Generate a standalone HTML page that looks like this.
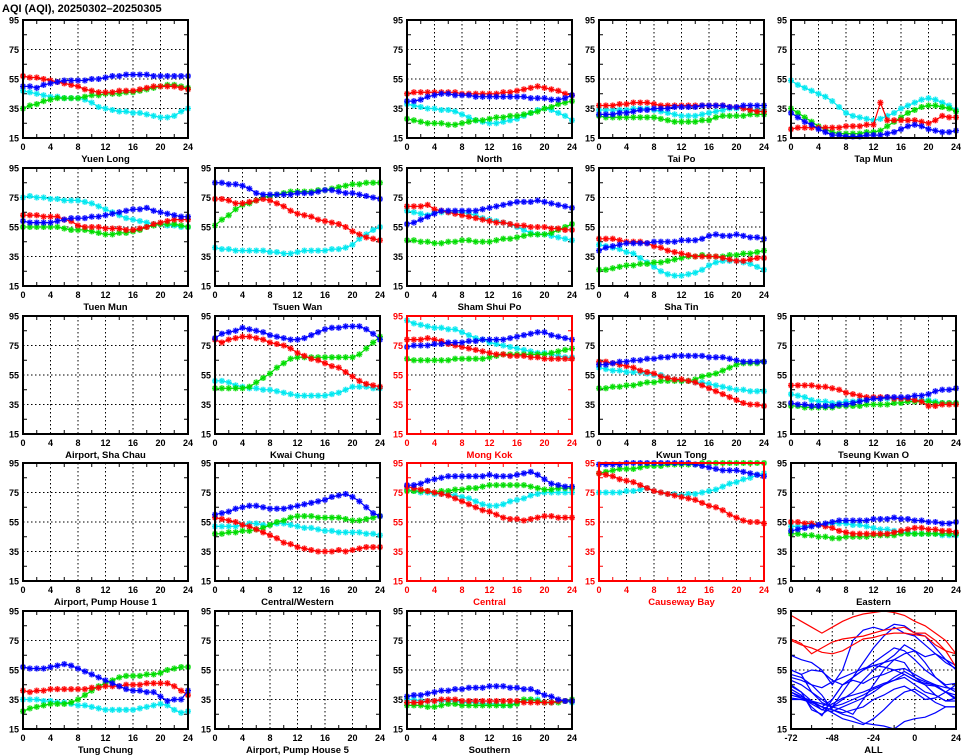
<!DOCTYPE html>
<html><head><meta charset="utf-8"><style>
html,body{margin:0;padding:0;background:#fff;}
svg{display:block;font-family:"Liberation Sans",sans-serif;font-weight:bold;}
</style></head><body>
<svg id="c" width="965" height="755" viewBox="0 0 965 755" xmlns="http://www.w3.org/2000/svg">
<text x="2" y="12" font-size="11" fill="#000">AQI (AQI), 20250302–20250305</text>
</svg>
<script>
const hours = [0,1,2,3,4,5,6,7,8,9,10,11,12,13,14,15,16,17,18,19,20,21,22,23,24];
const yTicks = [15,35,55,75,95];
const xTicks = [0,4,8,12,16,20,24];
const allXTicks = [-72,-48,-24,0,24];
const allHours = [-72,-66,-60,-54,-48,-42,-36,-30,-24,-18,-12,-6,0,6,12,18,24];
const stationNames = ["Yuen Long","North","Tai Po","Tap Mun","Tuen Mun","Tsuen Wan","Sham Shui Po","Sha Tin","Airport, Sha Chau","Kwai Chung","Mong Kok","Kwun Tong","Tseung Kwan O","Airport, Pump House 1","Central/Western","Central","Causeway Bay","Eastern","Tung Chung","Airport, Pump House 5","Southern"];
const stationCols = [0,2,3,4,0,1,2,3,0,1,2,3,4,0,1,2,3,4,0,1,2];
const stationRows = [0,0,0,0,1,1,1,1,2,2,2,2,2,3,3,3,3,3,4,4,4];
const roadside = ["Mong Kok","Central","Causeway Bay"];
const blueSeries = {
"Yuen Long":[50,50,49,51,52,53,54,54,54,54,55,55,56,57,57,58,58,58,58,57,57,57,57,57,57],
"North":[40,40,41,43,44,45,45,44,44,44,43,43,43,43,43,43,43,43,42,42,42,41,41,42,44],
"Tai Po":[31,31,31,32,32,33,34,34,35,35,35,36,36,36,36,37,37,37,37,36,36,37,37,37,37],
"Tap Mun":[32,29,26,24,21,19,17,17,16,16,16,17,17,17,18,19,21,23,24,23,21,20,19,19,20],
"Tuen Mun":[59,58,58,58,58,59,60,61,61,61,62,62,63,64,65,66,67,67,68,66,65,64,63,62,62],
"Tsuen Wan":[85,85,84,84,83,81,78,77,77,77,77,77,78,78,78,79,80,80,79,78,78,77,76,75,74],
"Sham Shui Po":[57,58,60,62,64,66,66,66,66,66,66,67,68,69,70,71,72,72,72,73,72,71,70,69,68],
"Sha Tin":[39,41,42,43,44,44,44,44,45,45,45,45,46,46,46,47,49,50,49,49,50,49,48,48,47],
"Kwai Chung":[80,83,84,85,87,86,85,84,82,81,80,79,79,80,82,84,86,87,87,88,88,88,86,83,79],
"Mong Kok":[74,75,75,75,76,76,77,77,77,78,78,79,79,79,79,80,81,82,83,84,84,82,81,80,79],
"Kwun Tong":[62,62,63,64,64,65,65,66,66,67,67,68,68,68,68,68,67,67,67,66,65,64,64,64,64],
"Tseung Kwan O":[36,35,35,34,34,34,34,35,35,36,37,38,39,39,40,40,40,40,41,41,42,44,45,45,46],
"Central/Western":[60,61,62,64,65,66,66,65,64,64,64,65,66,67,68,69,70,72,73,74,72,69,65,61,59],
"Central":[80,80,81,83,84,85,86,86,86,86,86,86,87,86,86,86,87,88,89,87,84,81,80,79,79],
"Causeway Bay":[94,94,94,94,95,95,95,95,95,95,95,95,95,95,94,93,92,91,90,90,90,89,88,87,86],
"Eastern":[49,50,51,52,53,54,55,56,56,56,56,56,57,57,57,58,57,57,56,56,55,55,54,54,55],
"Tung Chung":[57,56,56,56,57,58,59,58,56,54,52,50,48,46,44,42,41,41,40,40,37,34,35,35,41],
"Southern":[37,38,38,39,40,41,41,42,42,43,43,43,44,44,44,43,43,42,42,40,38,37,35,34,34]
};
const redSeries = {
"Yuen Long":[57,56,56,55,54,53,52,51,50,48,47,46,46,46,47,47,47,48,49,50,50,50,50,49,48],
"North":[45,46,46,46,46,46,46,46,45,45,45,45,45,45,46,46,47,48,49,50,49,48,47,45,44],
"Tai Po":[37,37,37,38,38,39,39,39,38,37,37,37,37,37,37,37,37,37,37,36,36,35,34,33,33],
"Tap Mun":[21,22,22,22,22,22,22,22,23,23,23,24,24,39,27,27,27,27,27,26,25,27,30,29,29],
"Tuen Mun":[63,63,63,62,62,62,60,59,56,55,55,55,54,54,54,53,53,54,55,57,58,59,60,60,60],
"Tsuen Wan":[74,74,73,71,71,72,73,74,73,71,69,66,64,63,62,60,59,58,57,55,52,50,48,47,46],
"Sham Shui Po":[69,69,69,70,67,66,65,64,63,62,61,60,59,58,58,57,56,56,55,55,55,54,54,53,53],
"Sha Tin":[47,47,47,46,45,45,45,44,42,41,39,38,37,36,35,35,35,35,34,33,32,32,33,34,34],
"Kwai Chung":[79,77,79,80,81,81,80,79,77,76,75,73,70,68,66,65,63,61,60,57,54,51,49,48,47],
"Mong Kok":[79,79,79,80,79,78,76,75,74,73,72,71,70,69,69,68,68,68,67,67,66,66,66,66,66],
"Kwun Tong":[64,64,63,62,61,60,58,57,56,54,53,52,52,51,50,48,46,44,42,40,38,36,35,35,34],
"Tseung Kwan O":[48,48,48,48,47,47,46,45,43,42,41,40,40,40,40,39,39,39,38,37,34,34,35,35,35],
"Central/Western":[58,57,56,55,53,52,50,48,46,44,41,40,38,37,36,35,35,35,36,35,36,37,38,38,38],
"Central":[79,78,77,76,75,74,73,71,69,67,65,63,62,60,58,57,57,56,57,58,59,59,58,58,58],
"Causeway Bay":[88,87,86,84,83,82,80,78,76,75,74,73,72,71,70,68,66,65,63,60,58,56,55,55,54],
"Eastern":[55,55,54,54,53,52,51,49,48,47,47,47,47,47,47,48,49,50,51,51,50,50,49,49,48],
"Tung Chung":[41,40,41,41,42,42,42,42,42,42,43,43,44,44,44,45,45,45,46,46,46,46,44,41,38],
"Southern":[33,33,33,34,34,35,35,35,34,34,34,34,34,34,34,34,34,33,33,33,33,33,34,34,34]
};
const greenSeries = {
"Yuen Long":[35,37,38,40,41,42,42,42,42,43,44,44,45,45,45,46,46,47,48,49,50,51,51,50,49],
"North":[28,27,26,25,25,25,24,24,25,26,27,27,28,29,29,30,30,31,32,33,35,36,38,39,40],
"Tai Po":[30,29,29,29,29,29,29,29,29,28,27,26,26,26,26,27,27,29,30,30,30,30,31,31,31],
"Tap Mun":[35,32,29,26,23,21,19,18,18,18,18,19,19,20,23,26,29,32,34,36,37,37,36,35,33],
"Tuen Mun":[55,55,55,55,55,55,54,53,53,53,52,51,50,50,51,51,52,53,55,56,57,57,57,56,55],
"Tsuen Wan":[56,60,63,67,70,71,73,75,76,77,78,79,79,79,79,80,80,81,82,83,84,84,85,85,85],
"Sham Shui Po":[46,46,45,45,44,44,45,45,46,46,45,45,45,46,47,47,48,49,50,50,50,51,53,55,57],
"Sha Tin":[26,26,27,28,29,29,30,30,31,31,32,33,34,35,35,36,35,35,35,36,36,37,37,38,39],
"Kwai Chung":[46,46,46,46,46,47,50,53,56,60,63,66,67,67,67,67,67,67,67,67,67,69,73,77,81],
"Mong Kok":[66,65,65,65,65,65,65,66,66,66,66,66,67,68,69,69,69,69,69,69,69,70,71,72,73],
"Kwun Tong":[46,46,47,47,48,48,49,50,50,51,51,51,51,51,52,54,55,56,58,60,62,63,63,63,64],
"Tseung Kwan O":[34,34,33,33,33,33,33,34,34,34,34,35,35,35,35,36,36,37,37,37,37,36,36,36,36],
"Central/Western":[47,47,48,48,49,49,50,51,53,55,56,58,59,59,59,58,58,58,58,57,56,56,57,58,59],
"Central":[76,76,76,76,75,76,76,77,77,78,78,79,80,80,80,80,80,80,79,78,77,77,78,78,78],
"Causeway Bay":[88,89,90,91,91,91,92,93,93,93,94,94,94,94,94,95,95,95,95,95,95,95,95,95,95],
"Eastern":[47,47,46,46,45,45,44,44,45,45,45,45,46,46,46,46,47,47,47,47,47,47,47,47,47],
"Tung Chung":[27,29,30,31,32,32,32,33,35,38,41,44,46,48,50,51,51,51,52,52,53,55,56,57,57],
"Southern":[31,31,31,30,30,31,32,32,31,31,31,31,31,31,31,31,32,35,35,34,33,33,33,34,35]
};
const cyanSeries = {
"Yuen Long":[47,46,45,44,43,43,42,42,42,41,39,36,35,34,33,33,32,32,31,30,29,29,30,33,35],
"North":[38,37,36,35,35,34,34,33,31,29,27,26,25,25,26,27,28,30,32,34,35,34,32,30,27],
"Tai Po":[34,34,34,34,34,35,35,35,34,33,32,31,30,30,30,31,32,33,34,35,35,35,34,34,34],
"Tap Mun":[54,51,49,47,45,43,40,36,32,30,29,28,27,28,30,32,35,37,39,41,42,41,39,37,34],
"Tuen Mun":[75,76,75,75,74,74,73,73,73,72,71,69,67,65,63,61,60,59,58,57,57,56,56,55,55],
"Tsuen Wan":[41,40,40,39,39,39,39,39,38,38,37,37,38,39,39,39,39,40,40,41,43,47,50,53,55],
"Sham Shui Po":[66,65,64,63,65,65,65,65,65,64,63,61,60,59,58,57,55,53,51,50,50,49,48,47,46],
"Sha Tin":[43,42,41,40,38,37,34,31,28,25,23,22,22,23,24,26,29,31,32,32,32,31,30,28,26],
"Kwai Chung":[51,51,50,48,47,46,46,45,45,44,43,42,41,41,41,41,41,42,43,45,47,47,47,46,46],
"Mong Kok":[92,90,89,88,87,87,86,86,84,82,80,79,77,76,75,74,73,72,71,70,70,69,68,67,67],
"Kwun Tong":[60,59,58,58,57,57,57,56,55,55,53,52,51,51,50,50,49,48,47,46,45,45,44,44,44],
"Tseung Kwan O":[42,41,40,38,37,37,36,36,37,37,38,38,39,39,39,39,39,38,38,38,38,37,36,36,36],
"Central/Western":[52,52,52,52,53,54,54,53,53,54,54,53,52,51,51,50,49,49,48,48,48,48,47,47,46],
"Central":[77,76,75,75,74,74,74,73,72,71,69,67,66,66,67,69,70,71,73,74,75,75,75,75,75],
"Causeway Bay":[75,75,75,75,76,76,77,78,76,75,74,74,73,74,74,75,76,77,79,81,82,84,85,87,88],
"Eastern":[52,52,52,53,53,53,54,54,54,53,53,52,51,50,50,49,48,48,47,47,47,47,46,46,46],
"Tung Chung":[35,35,35,34,34,33,33,32,31,31,30,29,28,28,28,28,28,29,30,31,32,31,28,26,27],
"Southern":[35,35,34,34,34,34,34,34,33,33,33,32,32,32,31,31,33,34,35,35,33,33,34,34,33]
};
const allRed = [
[92,88,84,80,84,88,91,93,94,95,94,92,88,85,80,75,66],
[76,73,66,70,74,76,77,78,80,82,83,84,80,80,75,68,57],
[75,72,70,67,66,68,72,76,77,79,80,80,79,78,72,68,66]];
const allBlue = [
[65,62,60,55,45,55,75,82,84,82,86,85,80,78,70,62,58],
[55,52,40,33,30,40,50,60,70,78,84,80,78,72,66,60,56],
[52,50,45,38,28,25,23,19,18,17,15,20,22,23,26,30,30],
[45,40,28,25,30,35,40,48,55,60,65,72,68,64,66,62,55],
[42,38,30,24,35,45,50,55,58,60,62,66,68,60,50,44,40],
[40,36,32,28,27,30,33,36,40,45,48,52,48,45,44,40,36],
[38,36,34,32,30,32,35,38,42,45,50,54,50,47,44,40,35],
[36,35,33,30,35,45,48,46,50,52,55,56,52,48,45,40,38],
[50,48,45,43,47,50,53,56,58,57,55,52,48,46,45,43,42],
[35,35,34,30,28,26,28,30,35,38,42,44,40,35,36,40,45],
[48,45,40,35,30,28,25,35,45,55,62,60,50,45,38,34,34],
[55,52,55,54,48,45,50,55,60,65,70,68,62,55,50,45,46],
[40,37,34,30,26,22,20,18,22,28,35,40,42,38,33,30,30],
[44,40,34,28,32,36,38,40,43,46,48,50,45,40,38,34,36]];

const NS = "http://www.w3.org/2000/svg";
const svg = document.getElementById('c');
const colLeft = [23,215,407,599,791];
const rowTop = [20,168,316,463,611];
const PW = 165, PH = 118;
function mk(tag, attrs, parent){
  const e = document.createElementNS(NS, tag);
  for (const k in attrs) e.setAttribute(k, attrs[k]);
  (parent||svg).appendChild(e);
  return e;
}
function panel(left, top, xmin, xmax, xt, frameColor, name, key){
  const g = mk('g', {});
  
  
  const sx = v => left + (v - xmin) / (xmax - xmin) * PW;
  const sy = v => top + PH - (v - 15) / 80 * PH;
  // grid
  [35,55,75].forEach(v => {
    const l = mk('line', {x1:left, x2:left+PW, y1:sy(v), y2:sy(v), stroke:'#000', 'stroke-width':1, 'stroke-dasharray':'1.5,2.5'}, g);
    
    
  });
  xt.slice(1,-1).forEach(v => {
    const l = mk('line', {x1:sx(v), x2:sx(v), y1:top, y2:top+PH, stroke:'#000', 'stroke-width':1, 'stroke-dasharray':'1.5,2.5'}, g);
    
    
  });
  // minor ticks
  [25,45,65,85].forEach(v => {
    mk('line', {x1:left, x2:left+4, y1:sy(v), y2:sy(v), stroke:frameColor, 'stroke-width':1}, g);
    mk('line', {x1:left+PW-4, x2:left+PW, y1:sy(v), y2:sy(v), stroke:frameColor, 'stroke-width':1}, g);
  });
  const step = (xt[1]-xt[0])/2;
  for (let v = xmin + step; v < xmax; v += 2*step) {
    mk('line', {x1:sx(v), x2:sx(v), y1:top+PH-4, y2:top+PH, stroke:frameColor, 'stroke-width':1}, g);
    mk('line', {x1:sx(v), x2:sx(v), y1:top, y2:top+4, stroke:frameColor, 'stroke-width':1}, g);
  }
  // tick labels
  yTicks.forEach(v => {
    const t = mk('text', {x:left-4, y:sy(v)+3.5, 'text-anchor':'end', 'font-size':9, fill:frameColor}, g);
    t.textContent = v;
    
    
  });
  xt.forEach(v => {
    const t = mk('text', {x:sx(v), y:top+PH+12, 'text-anchor':'middle', 'font-size':9, fill:frameColor}, g);
    t.textContent = v;
    
    
  });
  const lab = mk('text', {x:left+PW/2, y:top+PH+24, 'text-anchor':'middle', 'font-size':9.5, fill:frameColor}, g);
  lab.textContent = name;
  
  
  return {g, sx, sy, frame:() => {
    const r = mk('rect', {x:left, y:top, width:PW, height:PH, fill:'none', stroke:frameColor, 'stroke-width':2}, g);
    
    
  }};
}
function series(p, xs, vals, color, markers, nm){
  const pts = vals.map((v,i) => p.sx(xs[i]).toFixed(1) + ',' + p.sy(v).toFixed(1)).join(' ');
  const pl = mk('polyline', {points:pts, fill:'none', stroke:color, 'stroke-width':1.2}, p.g);
  
  
  if (markers) {
    let d = '';
    vals.forEach((v,i) => {
      const x = p.sx(xs[i]), y = p.sy(v), s = 3;
      d += `M${x-s},${y}H${x+s}M${x},${y-s}V${y+s}M${x-2.2},${y-2.2}L${x+2.2},${y+2.2}M${x-2.2},${y+2.2}L${x+2.2},${y-2.2}`;
    });
    const halo = mk('path', {d, stroke:color, 'stroke-width':2.6, 'stroke-opacity':0.35, fill:'none'}, p.g);
    
    
    const m = mk('path', {d, stroke:color, 'stroke-width':1, fill:'none'}, p.g);
    
    
  }
}
stationNames.forEach((name, i) => {
  const isRed = roadside.includes(name);
  const key = name.toLowerCase().replace(/[^a-z]+/g,'-');
  const p = panel(colLeft[stationCols[i]], rowTop[stationRows[i]], 0, 24, xTicks, isRed ? '#ff0000' : '#000', name, key);
  if (cyanSeries[name]) {
    series(p, hours, cyanSeries[name], '#00e8f0', true, key + '-cyan-series');
    series(p, hours, greenSeries[name], '#00dd00', true, key + '-green-series');
    series(p, hours, redSeries[name], '#ff0000', true, key + '-red-series');
    series(p, hours, blueSeries[name], '#0000ff', true, key + '-blue-series');
  }
  p.frame();
});
const pa = panel(colLeft[4], rowTop[4], -72, 24, allXTicks, '#000', 'ALL', 'all');
allBlue.forEach((s) => series(pa, allHours, s, '#0000ff', false, 'all-blue-line'));
allRed.forEach((s) => series(pa, allHours, s, '#ff0000', false, 'all-red-line'));
pa.frame();
</script>
</body></html>
